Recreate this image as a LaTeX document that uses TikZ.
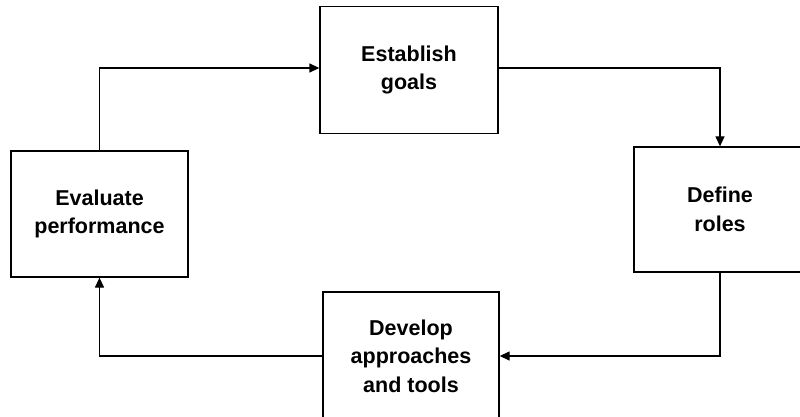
\documentclass[tikz,border=0pt]{standalone}
\usepackage{fontspec}
\setmainfont{Liberation Sans}
\usetikzlibrary{arrows.meta}
\tikzset{
  stagebox/.style={draw, line width=1.3pt, align=center, inner sep=0pt,
    font=\fontsize{21.5pt}{28.5pt}\selectfont\bfseries},
  flow/.style={line width=1.3pt, -{Triangle[length=10pt,width=9pt]}}
}
\begin{document}
\begin{tikzpicture}[x=1pt,y=-1pt]
\useasboundingbox (0,0) rectangle (800,417);
\clip (0,0) rectangle (800,417);
\node[stagebox, minimum width=178pt, minimum height=127pt] (goals) at (409,70) {Establish\\goals};
\node[stagebox, minimum width=172pt, minimum height=125pt] (roles) at (720,209.5) {Define\\roles};
\node[stagebox, minimum width=176pt, minimum height=128pt] (dev) at (411,356) {Develop\\approaches\\and tools};
\node[stagebox, minimum width=177pt, minimum height=126pt] (eval) at (99.5,214) {Evaluate\\performance};
\draw[flow] (eval.north) |- ([yshift=2pt]goals.west);
\draw[flow] ([yshift=2pt]goals.east) -| (roles.north);
\draw[flow] (roles.south) |- (dev.east);
\draw[flow] (dev.west) -| (eval.south);
\end{tikzpicture}
\end{document}
